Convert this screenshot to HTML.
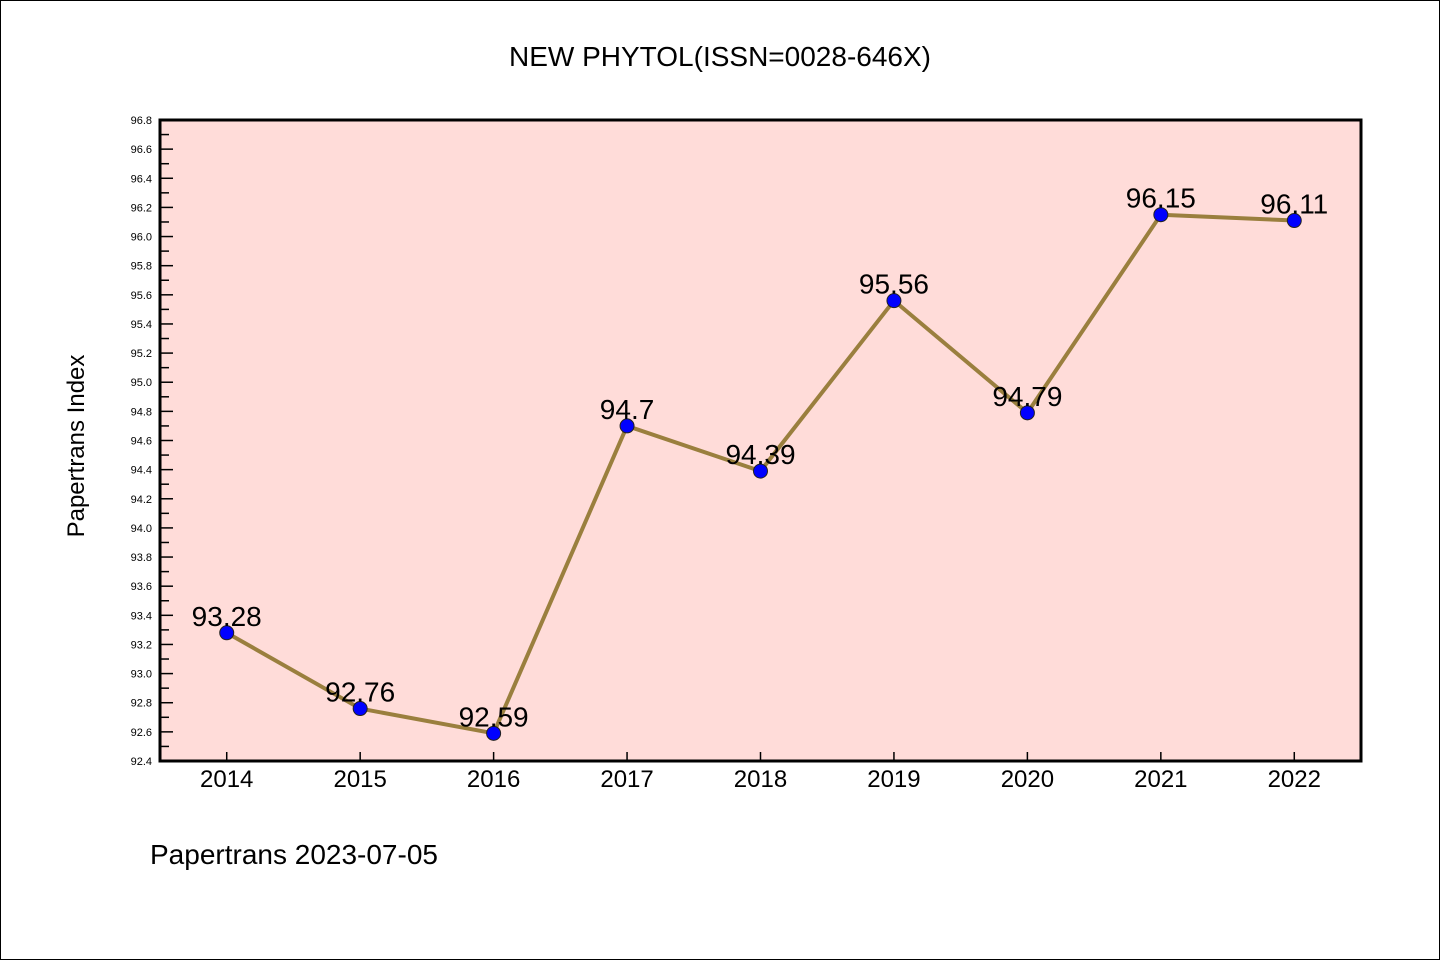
<!DOCTYPE html>
<html><head><meta charset="utf-8"><style>
body{margin:0;background:#fff}
svg text{font-family:"Liberation Sans","DejaVu Sans",sans-serif}
</style></head><body>
<svg width="1440" height="960">
<rect x="0.5" y="0.5" width="1439" height="959" fill="#fff" stroke="#000"/>
<text x="720" y="66" text-anchor="middle" font-size="28" font-family="DejaVu Sans Mono">NEW PHYTOL(ISSN=0028-646X)</text>
<rect x="160" y="120" width="1201" height="641" fill="#ffdcd9"/>
<g id="ticks"></g><g id="series"></g>
<rect x="160" y="120" width="1201" height="641" fill="none" stroke="#000" stroke-width="3"/>
<text transform="translate(84,446) rotate(-90)" text-anchor="middle" font-size="24" font-family="DejaVu Sans Mono">Papertrans Index</text>
<text x="150" y="864" font-size="28" font-family="DejaVu Sans Mono">Papertrans 2023-07-05</text>
</svg>
<script>
const categories=["2014","2015","2016","2017","2018","2019","2020","2021","2022"];
const values=[93.28,92.76,92.59,94.7,94.39,95.56,94.79,96.15,96.11];
const valueLabels=["93.28","92.76","92.59","94.7","94.39","95.56","94.79","96.15","96.11"];
const yMin=92.4,yMax=96.8;
const NS="http://www.w3.org/2000/svg";
const L=160,T=120,W=1201,H=641;
const bw=W/categories.length;
const xs=i=>L+bw*(i+0.5);
const ys=v=>T+H-(v-yMin)/(yMax-yMin)*H;
function mk(tag,attrs,parent){const e=document.createElementNS(NS,tag);for(const k in attrs)e.setAttribute(k,attrs[k]);parent.appendChild(e);return e;}
const tg=document.getElementById('ticks'),sg=document.getElementById('series');
for(let k=0;k<=44;k++){const v=yMin+k*0.1,y=ys(v),major=k%2===0;
 const t=mk('line',{x1:L,x2:L+(major?13:9),y1:y,y2:y,stroke:'#000','stroke-width':1.5},tg);
 
 if(major){const tx=mk('text',{x:L-8,y:y+4,'text-anchor':'end','font-size':11},tg);tx.textContent=v.toFixed(1);
 }}
categories.forEach((c,i)=>{const x=xs(i);
 const t=mk('line',{x1:x,x2:x,y1:T+H,y2:T+H-9,stroke:'#000','stroke-width':1.5},tg);
 
 const tx=mk('text',{x:x,y:T+H+26,'text-anchor':'middle','font-size':24},tg);tx.textContent=c;
 });
const pl=mk('polyline',{points:values.map((v,i)=>xs(i)+','+ys(v)).join(' '),fill:'none',stroke:'#9a7f3e','stroke-width':4,'stroke-linejoin':'round'},sg);

values.forEach((v,i)=>{const c=mk('circle',{cx:xs(i),cy:ys(v),r:7,fill:'#0000ff',stroke:'#222','stroke-width':1},sg);
 
 const tx=mk('text',{x:xs(i),y:ys(v)-7,'text-anchor':'middle','font-size':28},sg);tx.textContent=valueLabels[i];
 });
</script>
</body></html>
